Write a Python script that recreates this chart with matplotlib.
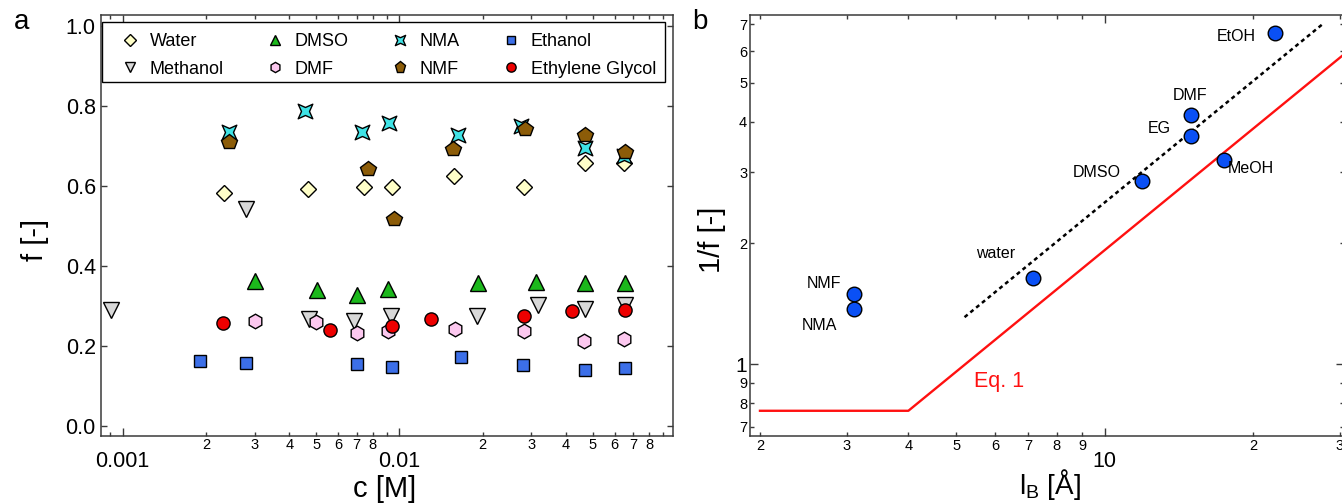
import matplotlib
matplotlib.use("Agg")
import matplotlib.pyplot as plt
from matplotlib.path import Path
from matplotlib.patches import Rectangle

plt.rcParams['font.family'] = ['Liberation Sans', 'DejaVu Sans']
plt.rcParams['mathtext.fontset'] = 'custom'
plt.rcParams['mathtext.rm'] = 'Liberation Sans'
plt.rcParams['mathtext.it'] = 'Liberation Sans:italic'

# ---------------- data: panel a ----------------
water_c = [0.00232, 0.00466, 0.00743, 0.00937, 0.0158, 0.0281, 0.0468, 0.065]
water_f = [0.582, 0.592, 0.598, 0.597, 0.625, 0.597, 0.657, 0.657]

methanol_c = [0.000904, 0.0028, 0.0047, 0.00687, 0.0093, 0.019, 0.0318, 0.0468, 0.0655]
methanol_f = [0.289, 0.543, 0.266, 0.263, 0.274, 0.274, 0.301, 0.291, 0.301]

dmso_c = [0.00301, 0.00505, 0.00704, 0.00907, 0.0192, 0.0312, 0.047, 0.0655]
dmso_f = [0.3625, 0.339, 0.327, 0.343, 0.356, 0.360, 0.356, 0.356]

dmf_c = [0.00301, 0.00501, 0.0070, 0.00907, 0.0159, 0.0282, 0.0465, 0.065]
dmf_f = [0.262, 0.259, 0.231, 0.237, 0.241, 0.2375, 0.2125, 0.216]

nma_c = [0.00242, 0.00455, 0.00735, 0.0092, 0.0163, 0.0274, 0.047, 0.065]
nma_f = [0.735, 0.787, 0.734, 0.7575, 0.727, 0.749, 0.696, 0.676]

nmf_c = [0.00242, 0.0077, 0.00957, 0.0156, 0.0284, 0.0468, 0.0655]
nmf_f = [0.71, 0.6435, 0.517, 0.692, 0.742, 0.727, 0.685]

ethanol_c = [0.0019, 0.0028, 0.0070, 0.00937, 0.0167, 0.028, 0.0468, 0.0655]
ethanol_f = [0.1625, 0.1575, 0.154, 0.146, 0.1725, 0.151, 0.139, 0.145]

eg_c = [0.0023, 0.00563, 0.0094, 0.013, 0.0281, 0.0421, 0.0655]
eg_f = [0.2575, 0.239, 0.25, 0.267, 0.274, 0.286, 0.289]

# ---------------- data: panel b ----------------
solvents = ['EtOH', 'DMF', 'EG', 'MeOH', 'DMSO', 'water', 'NMF', 'NMA']
lB = [22.2, 15.0, 15.0, 17.5, 11.9, 7.16, 3.1, 3.1]
inv_f = [6.66, 4.17, 3.70, 3.22, 2.86, 1.636, 1.493, 1.37]

fit_lB = [5.2, 27.7]
fit_inv_f = [1.31, 7.0]

eq1_lB = [2.0, 4.0, 30.4]
eq1_inv_f = [0.767, 0.767, 5.85]

# ---------------- figure ----------------
W, H = 1342, 503
fig = plt.figure(figsize=(W / 100, H / 100), dpi=100)
ax1 = fig.add_axes([100.7 / W, 1 - 435.5 / H, 572.6 / W, 420.2 / H])
ax2 = fig.add_axes([750 / W, 1 - 436 / H, 594 / W, 420.7 / H])

spine_col = '#3a3a3a'
for ax in (ax1, ax2):
    for s in ax.spines.values():
        s.set_color(spine_col)
        s.set_linewidth(1.1)

# custom NMA marker (concave square)
nma_marker = Path([(-1, -1), (0, -0.55), (1, -1), (0.55, 0), (1, 1), (0, 0.55),
                   (-1, 1), (-0.55, 0), (-1, -1)],
                  [Path.MOVETO] + [Path.LINETO] * 7 + [Path.CLOSEPOLY])

mk = dict(linestyle='none', mec='black', mew=1.0)
ax1.plot(water_c, water_f, marker='D', ms=8.3, mfc='#ffffc8', label='Water', **mk)
ax1.plot(methanol_c, methanol_f, marker='v', ms=11, mfc='#d8d8d8', label='Methanol', **mk)
ax1.plot(dmso_c, dmso_f, marker='^', ms=11, mfc='#1cb81c', label='DMSO', **mk)
ax1.plot(dmf_c, dmf_f, marker='h', ms=10.5, mfc='#fcc8ef', label='DMF', **mk)
ax1.plot(nma_c, nma_f, marker=nma_marker, ms=10.5, mfc='#3fe3e6', label='NMA', **mk)
ax1.plot(nmf_c, nmf_f, marker='p', ms=11.5, mfc='#8c5c08', label='NMF', **mk)
ax1.plot(ethanol_c, ethanol_f, marker='s', ms=9, mfc='#3c6fe8', label='Ethanol', **mk)
ax1.plot(eg_c, eg_f, marker='o', ms=9.5, mfc='#ee0000', label='Ethylene Glycol', **mk)

ax1.set_xscale('log')
ax1.set_xlim(0.000833, 0.0977)
ax1.set_ylim(-0.025, 1.0275)
ax1.set_yticks([0.0, 0.2, 0.4, 0.6, 0.8, 1.0])
ax1.set_yticklabels(['0.0', '0.2', '0.4', '0.6', '0.8', '1.0'])
ax1.set_xticks([0.001, 0.01], labels=['0.001', '0.01'])
minor_pos = [0.0009]
minor_lab = ['']
for dec in (0.001, 0.01):
    for k in range(2, 10):
        minor_pos.append(k * dec)
        minor_lab.append(str(k) if k < 9 else '')
ax1.set_xticks(minor_pos, labels=minor_lab, minor=True)
ax1.tick_params(which='both', direction='in', top=True, right=True,
                color=spine_col, width=1.0)
ax1.tick_params(axis='x', which='major', length=6, labelsize=15.5, pad=11)
ax1.tick_params(axis='x', which='minor', length=3, labelsize=10.5, pad=2)
ax1.tick_params(axis='y', which='major', length=4.5, labelsize=15.5, pad=3.5)
ax1.tick_params(axis='y', which='minor', length=0)

# legend frame drawn separately, legend content expanded inside it
ax1.add_patch(Rectangle((0.0023, 0.8413), 0.9832, 0.1428, transform=ax1.transAxes,
                        facecolor='white', edgecolor='black', lw=1.0, zorder=4))
leg = ax1.legend(ncol=4, loc='upper left', mode='expand',
                 bbox_to_anchor=(0.0355, 0.8413, 0.9343, 0.117),
                 fontsize=13, markerscale=0.7, handlelength=1.0,
                 handletextpad=0.6, labelspacing=0.6, borderpad=0.0,
                 borderaxespad=0.0, frameon=False)
leg.set_zorder(5)

fig.text(35 / W, 1 - 240 / H, 'f [-]', rotation=90, fontsize=21,
         ha='center', va='center')
fig.text(385 / W, 1 - 489 / H, 'c [M]', fontsize=21, ha='center', va='center')
fig.text(22 / W, 1 - 22 / H, 'a', fontsize=20, ha='center', va='center')

# ---------------- panel b ----------------
ax2.plot(eq1_lB, eq1_inv_f, color='#ff1010', lw=1.7, zorder=2)
ax2.plot(fit_lB, fit_inv_f, color='black', lw=1.8, linestyle=(0, (1.6, 1.4)), zorder=2)
ax2.plot(lB, inv_f, linestyle='none', marker='o', ms=10.5, mfc='#0a50f5',
         mec='black', mew=1.0, zorder=3)

ax2.set_xscale('log')
ax2.set_yscale('log')
ax2.set_xlim(1.909, 30.6)
ax2.set_ylim(0.664, 7.36)

ax2.set_xticks([10], labels=['10'])
xm = [2, 3, 4, 5, 6, 7, 8, 9, 20, 30]
ax2.set_xticks(xm, labels=['2', '3', '4', '5', '6', '7', '8', '9', '2', '3'], minor=True)
ax2.set_yticks([1], labels=['1'])
ym = [0.7, 0.8, 0.9, 2, 3, 4, 5, 6, 7]
ax2.set_yticks(ym, labels=['7', '8', '9', '2', '3', '4', '5', '6', '7'], minor=True)
ax2.tick_params(which='both', direction='in', top=True, right=True,
                color=spine_col, width=1.0)
ax2.tick_params(axis='x', which='major', length=6, labelsize=15.5, pad=11)
ax2.tick_params(axis='x', which='minor', length=3, labelsize=10.5, pad=2)
ax2.tick_params(axis='y', which='major', length=6, labelsize=15, pad=2)
ax2.tick_params(axis='y', which='minor', length=3, labelsize=10.5, pad=2)

lab_pos = {'EtOH': (18.5, 6.51), 'DMF': (14.9, 4.64), 'EG': (12.9, 3.86),
           'MeOH': (19.8, 3.07), 'DMSO': (9.63, 3.0), 'water': (6.0, 1.88),
           'NMF': (2.70, 1.59), 'NMA': (2.64, 1.25)}
for name in solvents:
    x, y = lab_pos[name]
    ax2.text(x, y, name, fontsize=11.5, ha='center', va='center')
ax2.text(6.12, 0.905, 'Eq. 1', color='#ff1010', fontsize=15.5, ha='center', va='center')

fig.text(712 / W, 1 - 240 / H, '1/f [-]', rotation=90, fontsize=21,
         ha='center', va='center')
fig.text(1050 / W, 1 - 484 / H, r'l$_{\rm B}$ [Å]', fontsize=20, ha='center', va='center')
fig.text(700 / W, 1 - 22 / H, 'b', fontsize=20, ha='center', va='center')

fig.savefig('out.png', dpi=100)
